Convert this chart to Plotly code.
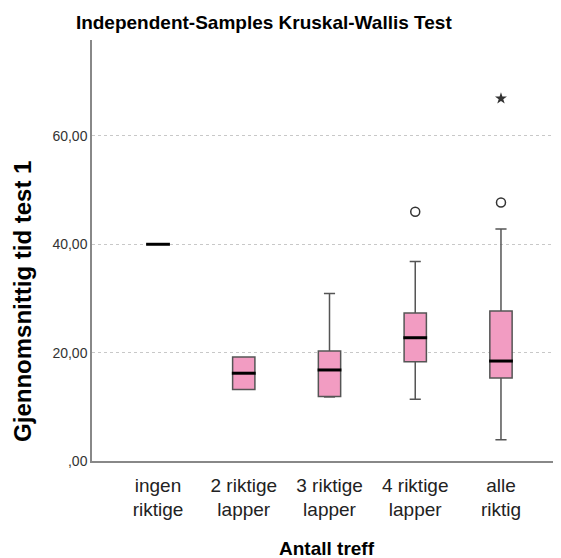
import plotly.graph_objects as go

groups = ["ingen<br>riktige", "2 riktige<br>lapper", "3 riktige<br>lapper", "4 riktige<br>lapper", "alle<br>riktig"]
q1 = [40.0, 13.2, 11.9, 18.3, 15.3]
median = [40.0, 16.2, 16.8, 22.75, 18.45]
q3 = [40.0, 19.2, 20.3, 27.3, 27.7]
lower = [40.0, 13.2, 11.8, 11.4, 3.9]
upper = [40.0, 19.2, 30.9, 36.8, 42.8]

outlier_groups = [groups[3], groups[4]]
outlier_values = [46.0, 47.7]
extreme_groups = [groups[4]]
extreme_values = [66.9]

pink = "#f29cc2"
edge = "#555555"

fig = go.Figure()

fig.add_trace(go.Box(
    x=groups, q1=q1, median=median, q3=q3,
    lowerfence=lower, upperfence=upper,
    fillcolor=pink, line=dict(color=edge, width=1.5),
    width=0.26, whiskerwidth=0.5, boxpoints=False,
    hoverinfo="skip", showlegend=False,
))

# thick black median bar, as SPSS draws it
fig.add_trace(go.Scatter(
    x=groups, y=median, mode="markers",
    marker=dict(symbol="line-ew-open", size=17, color="black",
                line=dict(color="black", width=3)),
    hoverinfo="skip", showlegend=False,
))

fig.add_trace(go.Scatter(
    x=outlier_groups, y=outlier_values, mode="markers",
    marker=dict(symbol="circle-open", size=9, color="#333333", line=dict(width=1.5)),
    showlegend=False,
))
fig.add_trace(go.Scatter(
    x=extreme_groups, y=extreme_values, mode="markers",
    marker=dict(symbol="star", size=9, color="#333333"),
    showlegend=False,
))

fig.update_layout(
    width=561, height=558,
    margin=dict(l=84, r=8, t=32, b=105),
    paper_bgcolor="white", plot_bgcolor="white",
    font=dict(family="Liberation Sans, Arial, sans-serif", color="#222222"),
    title=dict(text="Independent-Samples Kruskal-Wallis Test", x=0.456, xanchor="center",
               y=0.975, yanchor="middle",
               font=dict(size=19, color="black", weight="bold")),
)
# SPSS centres the y title on the whole chart height, not on the plot area
fig.add_annotation(
    text="Gjennomsnittig tid test 1", textangle=-90,
    xref="paper", yref="paper", x=-0.147, y=0.378,
    xanchor="center", yanchor="middle", showarrow=False,
    font=dict(size=24, color="black", weight="bold"),
)
fig.update_xaxes(
    type="category", range=[-0.77, 4.70],
    showline=True, linecolor="#888888", linewidth=1.5,
    showgrid=False, ticks="", tickfont=dict(size=19, color="#222222"),
    ticklabelstandoff=6,
    title=dict(text="Antall treff", font=dict(size=19, color="black", weight="bold"), standoff=22),
)
fig.update_yaxes(
    range=[0, 77.7], tickvals=[0, 20, 40, 60], ticktext=[",00", "20,00", "40,00", "60,00"],
    showline=True, linecolor="#888888", linewidth=1.5,
    showgrid=True, gridcolor="#c8c8c8", griddash="3px,3px", gridwidth=1,
    zeroline=False, ticks="", tickfont=dict(size=14, color="#333333"),
)

fig.write_html("out.html")
